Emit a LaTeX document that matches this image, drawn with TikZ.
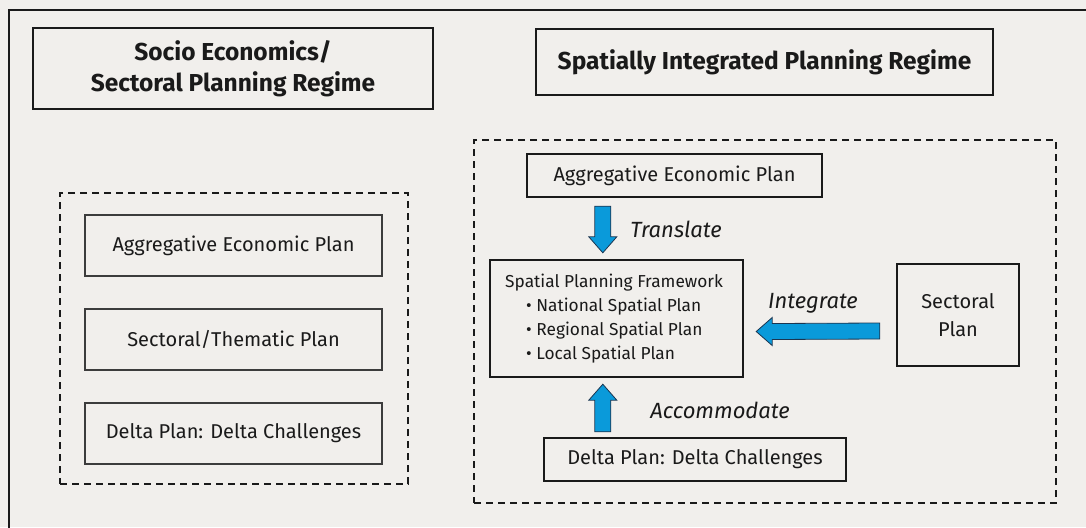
\documentclass[tikz,border=0pt]{standalone}
\usepackage{fontspec}
\setmainfont{Fira Sans}
\usetikzlibrary{calc}
\definecolor{paper}{HTML}{F1EFEC}
\definecolor{ink}{HTML}{1A1A1A}
\definecolor{arrowblue}{HTML}{0A9ADA}
\definecolor{arrowedge}{HTML}{1B3550}
\tikzset{
  heading/.style={draw=ink, line width=2.4pt, inner sep=0pt, font=\bfseries\fontsize{24.5}{31}\selectfont, align=center, text=ink},
  groupbox/.style={draw=ink, line width=2.2pt, dash pattern=on 7pt off 5pt, inner sep=0pt},
  thinbox/.style={draw=ink!85, line width=1.3pt, inner sep=0pt, font=\fontsize{20}{22}\selectfont, text=ink},
  planbox/.style={draw=ink, line width=2.4pt, inner sep=0pt, font=\fontsize{20}{28}\selectfont, text=ink, align=center},
  verb/.style={font=\itshape\fontsize{22}{24}\selectfont, text=ink},
  fatarrow/.style={fill=arrowblue, draw=arrowedge, line width=0.8pt, line join=miter},
}
\begin{document}
\begin{tikzpicture}[x=1pt, y=-1pt]
  % page
  \useasboundingbox (0,0) rectangle (1086,527);
  \fill[paper] (0,0) rectangle (1086,527);
  \begin{scope}
    \clip (0,0) rectangle (1086,527);
    \draw[ink, line width=2.4pt] (9,540) -- (9,10) -- (1100,10);
  \end{scope}

  % column headings
  \node[heading, minimum width=400pt, minimum height=81pt] (lhead) at (233,68.5)
    {Socio Economics/\\Sectoral Planning Regime};
  \node[heading, minimum width=457pt, minimum height=66pt] (rhead) at (764.5,62)
    {Spatially Integrated Planning Regime};

  % left column: sectoral regime
  \node[groupbox, minimum width=348pt, minimum height=291pt] (lgroup) at (234,338.5) {};
  \node[thinbox, minimum width=297pt, minimum height=61pt] (laep) at (233.5,245.5) {Aggregative Economic Plan};
  \node[thinbox, minimum width=297pt, minimum height=61pt] (lstp) at (233.5,339.5) {Sectoral/Thematic Plan};
  \node[thinbox, minimum width=297pt, minimum height=61pt] (ldel) at (233.5,433.5) {Delta Plan: Delta Challenges};

  % right column: integrated regime
  \node[groupbox, minimum width=582pt, minimum height=363pt] (rgroup) at (765,321.5) {};
  \node[planbox, minimum width=295pt, minimum height=43pt] (aep) at (674.5,175.5) {Aggregative Economic Plan};
  \node[planbox, minimum width=253pt, minimum height=117pt] (spf) at (616.5,318.5) {};
  \node[anchor=north west, align=left, inner sep=0pt, text=ink,
        font=\fontsize{17.3}{24}\selectfont] (spftext) at (505,274)
    {Spatial Planning Framework\\
     \hspace*{21pt}\textbullet\ National Spatial Plan\\
     \hspace*{21pt}\textbullet\ Regional Spatial Plan\\
     \hspace*{21pt}\textbullet\ Local Spatial Plan};
  \node[planbox, minimum width=302pt, minimum height=43pt] (del) at (695,459.5) {Delta Plan: Delta Challenges};
  \node[planbox, minimum width=122pt, minimum height=102pt] (sec) at (958,315) {Sectoral\\Plan};

  % block arrows between the plans
  \coordinate (tr0) at ($(aep.south west)+(77,8)$);
  \coordinate (tr1) at ($(spf.north west)+(114,-6)$);
  \filldraw[fatarrow] ($(tr0)+(-8,0)$) -- ($(tr0)+(8,0)$) -- ($(tr1)+(8,-16)$) -- ($(tr1)+(14,-16)$)
    -- (tr1) -- ($(tr1)+(-14,-16)$) -- ($(tr1)+(-8,-16)$) -- cycle;

  \coordinate (ac0) at ($(del.north west)+(60,-5)$);
  \coordinate (ac1) at ($(spf.south west)+(114,6)$);
  \filldraw[fatarrow] ($(ac0)+(-8,0)$) -- ($(ac0)+(8,0)$) -- ($(ac1)+(8,16)$) -- ($(ac1)+(14,16)$)
    -- (ac1) -- ($(ac1)+(-14,16)$) -- ($(ac1)+(-8,16)$) -- cycle;

  \coordinate (in0) at ($(sec.west)+(-16,16)$);
  \coordinate (in1) at ($(spf.east)+(12,13)$);
  \filldraw[fatarrow] ($(in0)+(0,-8)$) -- ($(in0)+(0,8)$) -- ($(in1)+(16,8)$) -- ($(in1)+(16,14)$)
    -- (in1) -- ($(in1)+(16,-14)$) -- ($(in1)+(16,-8)$) -- cycle;

  % arrow labels
  \node[verb] (ltr) at (676,229) {Translate};
  \node[verb] (lin) at (813,303) {Integrate};
  \node[verb] (lac) at (720,410) {Accommodate};
\end{tikzpicture}
\end{document}
